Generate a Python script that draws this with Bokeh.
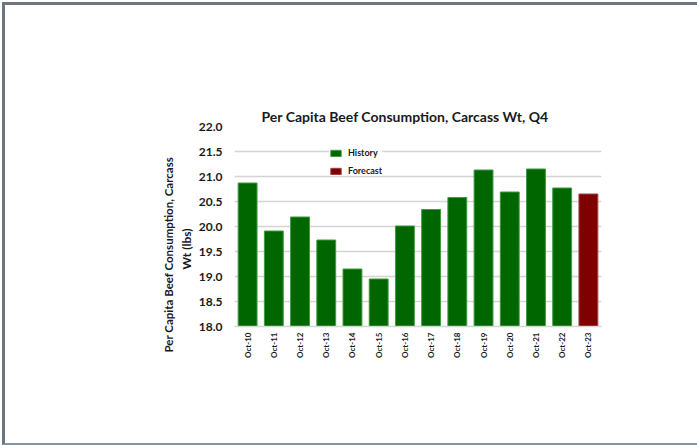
from bokeh.plotting import figure
from bokeh.models import (ColumnDataSource, Legend, LegendItem, FactorRange, Title,
                          Range1d, FixedTicker, NumeralTickFormatter)
from bokeh.embed import file_html
from bokeh.resources import INLINE

# ---- data ----
quarters = ["Oct-10", "Oct-11", "Oct-12", "Oct-13", "Oct-14", "Oct-15", "Oct-16",
            "Oct-17", "Oct-18", "Oct-19", "Oct-20", "Oct-21", "Oct-22", "Oct-23"]
history_quarters = quarters[:13]
history_values = [20.87, 19.91, 20.19, 19.73, 19.15, 18.95, 20.01,
                  20.34, 20.58, 21.13, 20.69, 21.15, 20.77]
forecast_quarters = ["Oct-23"]
forecast_values = [20.65]
y_ticks = [18.0, 18.5, 19.0, 19.5, 20.0, 20.5, 21.0, 21.5, 22.0]

title_text = "Per Capita Beef Consumption, Carcass Wt, Q4"
ylabel_line1 = "Per Capita  Beef Consumption, Carcass"
ylabel_line2 = "Wt (lbs)"

FONT = "Lato"
TEXT = "#1a1a1a"
GREEN = "#006600"
MAROON = "#7f0000"
GRID = "#d4d4d4"

p = figure(width=692, height=438, output_backend="svg", toolbar_location=None,
           x_range=FactorRange(*quarters, range_padding=0),
           y_range=Range1d(18.0, 22.0),
           min_border_left=229, min_border_right=99,
           min_border_top=121, min_border_bottom=122)
p.styles = {"box-sizing": "content-box", "overflow": "hidden",
            "margin-left": "2px", "margin-top": "2px",
            "border-left": "3px solid #6b7682",
            "border-top": "3px solid #6b7682",
            "border-right": "none",
            "border-bottom": "2px solid #8893a0"}
p.background_fill_color = "white"
p.border_fill_color = "white"
p.outline_line_color = None

# title
p.title.text = title_text
p.title.align = "left"
p.title.offset = 27
p.title.text_font = FONT
p.title.text_font_style = "bold"
p.title.text_font_size = "14px"
p.title.text_color = TEXT
p.title.standoff = 3

hist_src = ColumnDataSource(dict(x=history_quarters, top=history_values))
fc_src = ColumnDataSource(dict(x=forecast_quarters, top=forecast_values))

r_hist = p.vbar(x="x", top="top", bottom=18.0, width=0.72, source=hist_src,
                fill_color=GREEN, line_color="#3f9a3f", line_width=1)
r_fc = p.vbar(x="x", top="top", bottom=18.0, width=0.72, source=fc_src,
              fill_color=MAROON, line_color="#a04040", line_width=1)

# axes
p.yaxis.ticker = FixedTicker(ticks=y_ticks)
p.yaxis.formatter = NumeralTickFormatter(format="0.0")
p.yaxis.axis_line_color = None
p.yaxis.major_tick_line_color = None
p.yaxis.minor_tick_line_color = None
p.yaxis.major_label_text_font = FONT
p.yaxis.major_label_text_font_style = "bold"
p.yaxis.major_label_text_font_size = "12px"
p.yaxis.major_label_text_color = TEXT
p.yaxis.major_label_standoff = 6

p.xaxis.axis_line_color = GRID
p.xaxis.axis_line_width = 1.5
p.xaxis.major_tick_line_color = None
p.xaxis.minor_tick_line_color = None
p.xaxis.major_label_orientation = 1.5708
p.xaxis.major_label_text_font = FONT
p.xaxis.major_label_text_font_style = "bold"
p.xaxis.major_label_text_font_size = "8px"
p.xaxis.major_label_text_color = TEXT
p.xaxis.major_label_standoff = 0

p.xgrid.grid_line_color = None
p.ygrid.grid_line_color = GRID
p.ygrid.grid_line_width = 1.5

# y-axis label as two lines
t_line2 = Title(text=ylabel_line2, align="left", offset=57, standoff=4,
                text_font=FONT, text_font_style="bold", text_font_size="12px",
                text_color=TEXT)
t_line1 = Title(text=ylabel_line1, align="left", offset=-26, standoff=0,
                text_font=FONT, text_font_style="bold", text_font_size="11.5px",
                text_color=TEXT)
p.add_layout(t_line2, "left")
p.add_layout(t_line1, "left")

legend = Legend(items=[LegendItem(label="History", renderers=[r_hist]),
                       LegendItem(label="Forecast", renderers=[r_fc])],
                location=(95, 150), orientation="vertical",
                glyph_width=13, glyph_height=8, label_height=8,
                label_standoff=6, spacing=7, padding=2, margin=0,
                label_text_font=FONT, label_text_font_style="bold",
                label_text_font_size="9px", label_text_color=TEXT,
                border_line_color=None, background_fill_color="white",
                background_fill_alpha=1.0)
p.add_layout(legend)

open("out.html", "w").write(file_html(p, INLINE))
